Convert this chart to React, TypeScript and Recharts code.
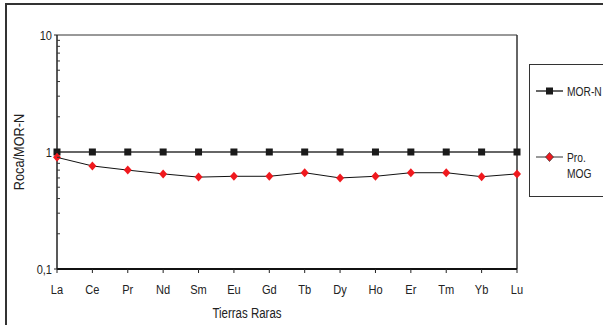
import React from 'react';
import { LineChart, Line, XAxis, YAxis, Legend, ReferenceLine } from 'recharts';

const elements = ['La', 'Ce', 'Pr', 'Nd', 'Sm', 'Eu', 'Gd', 'Tb', 'Dy', 'Ho', 'Er', 'Tm', 'Yb', 'Lu'];
const morN = [1, 1, 1, 1, 1, 1, 1, 1, 1, 1, 1, 1, 1, 1];
const proMog = [0.9, 0.76, 0.7, 0.65, 0.61, 0.62, 0.62, 0.665, 0.6, 0.62, 0.665, 0.665, 0.615, 0.65];
const yMajorTicks = [0.1, 1, 10];
const yMinorTicks = [0.2, 0.3, 0.4, 0.5, 0.6, 0.7, 0.8, 0.9, 2, 3, 4, 5, 6, 7, 8, 9];
const seriesNames = ['MOR-N', 'Pro. MOG'];
const yTitle = 'Roca/MOR-N';
const xTitle = 'Tierras Raras';

const data = elements.map((el, i) => ({ el, morN: morN[i], proMog: proMog[i] }));

const FONT = "'Liberation Sans', Arial, sans-serif";
const TEXT = '#222';

const NText = ({ x, y, anchor = 'middle', size = 13.5, rotate = 0, sx = 0.82, children }: any) => (
  <text
    transform={`translate(${x},${y}) rotate(${rotate}) scale(${sx},1)`}
    x={0}
    y={0}
    dy="0.36em"
    textAnchor={anchor}
    fontSize={size}
    fontFamily={FONT}
    fill={TEXT}
  >
    {children}
  </text>
);

const YTick = (props: any) => {
  const { x, y, payload } = props;
  const v = payload.value;
  const major = yMajorTicks.includes(v);
  if (major) {
    return (
      <g>
        <line x1={x - 3} x2={x} y1={y} y2={y} stroke="#222" strokeWidth={1} />
        <NText x={x - 5} y={y} anchor="end">
          {String(v).replace('.', ',')}
        </NText>
      </g>
    );
  }
  return <line x1={x} x2={x + 3} y1={y} y2={y} stroke="#333" strokeWidth={1} />;
};

const XTick = (props: any) => {
  const { x, y, payload } = props;
  return (
    <NText x={x} y={y + 6}>
      {payload.value}
    </NText>
  );
};

const Square = (p: any) => {
  const { cx, cy, index } = p;
  return <rect key={`s${index}`} x={cx - 3.5} y={cy - 3.5} width={7} height={7} fill="#1a1a1a" />;
};

const Diamond = (p: any) => {
  const { cx, cy, index } = p;
  return (
    <path
      key={`d${index}`}
      d={`M${cx},${cy - 4.5} L${cx + 4},${cy} L${cx},${cy + 4.5} L${cx - 4},${cy} Z`}
      fill="#f0191e"
    />
  );
};

const LegendBox = () => (
  <div
    style={{
      width: 100,
      height: 133,
      border: '1.5px solid #333',
      boxSizing: 'border-box',
      background: '#fff',
    }}
  >
    <svg width={100} height={133} style={{ position: 'absolute', left: 0, top: 0 }}>
      <line x1={7} x2={34} y1={27} y2={27} stroke="#333" strokeWidth={1.5} />
      <rect x={17} y={23.5} width={7} height={7} fill="#1a1a1a" />
      <NText x={38} y={27} anchor="start" size={12.5}>
        {seriesNames[0]}
      </NText>
      <line x1={7} x2={34} y1={93} y2={93} stroke="#333" strokeWidth={1} />
      <path d="M20.5,88.5 L24.5,93 L20.5,97.5 L16.5,93 Z" fill="#f0191e" stroke="#333" strokeWidth={0.7} />
      <NText x={38} y={93} anchor="start" size={12.5}>
        {seriesNames[1].split(' ')[0]}
      </NText>
      <NText x={38} y={109} anchor="start" size={12.5}>
        {seriesNames[1].split(' ')[1]}
      </NText>
    </svg>
  </div>
);

export default function App() {
  return (
    <div style={{ position: 'absolute', left: 0, top: 0, width: 603, height: 325, overflow: 'hidden', background: '#fff' }}>
      <div
        style={{
          position: 'absolute',
          left: 5,
          top: 3,
          width: 700,
          height: 400,
          border: '2px solid #333',
        }}
      />
      <div style={{ position: 'absolute', left: 0, top: 0 }}>
        <LineChart width={603} height={325} data={data} margin={{ top: 35, right: 86, bottom: 0, left: 0 }}>
          <XAxis
            dataKey="el"
            interval={0}
            height={56}
            axisLine={{ stroke: '#111', strokeWidth: 2 }}
            tickLine={{ stroke: '#222' }}
            tickSize={4}
            tickMargin={10}
            tick={<XTick />}
            label={{
              content: (props: any) => {
                const { viewBox } = props;
                return (
                  <NText x={viewBox.x + 190} y={viewBox.y + 44} size={14}>
                    {xTitle}
                  </NText>
                );
              },
            }}
          />
          <YAxis
            type="number"
            scale="log"
            domain={[0.1, 10]}
            allowDataOverflow
            ticks={[...yMajorTicks, ...yMinorTicks]}
            interval={0}
            width={57}
            axisLine={{ stroke: '#222', strokeWidth: 1.5 }}
            tickLine={false}
            tickSize={0}
            tickMargin={0}
            tick={<YTick />}
            label={{
              content: (props: any) => {
                const { viewBox } = props;
                const cx = viewBox.x + 19;
                const cy = viewBox.y + viewBox.height / 2;
                return (
                  <NText x={cx} y={cy} size={14} rotate={-90} sx={0.91}>
                    {yTitle}
                  </NText>
                );
              },
            }}
          />
          <ReferenceLine y={10} stroke="#333" strokeWidth={1} />
          <ReferenceLine x="Lu" stroke="#333" strokeWidth={1.5} />
          <Line
            dataKey="morN"
            name={seriesNames[0]}
            stroke="#333"
            strokeWidth={1.5}
            dot={Square}
            isAnimationActive={false}
          />
          <Line
            dataKey="proMog"
            name={seriesNames[1]}
            stroke="#111"
            strokeWidth={1}
            dot={Diamond}
            isAnimationActive={false}
          />
          <Legend
            layout="vertical"
            align="center"
            verticalAlign="middle"
            content={() => <LegendBox />}
            wrapperStyle={{ position: 'absolute', left: 529, top: 64, width: 100, height: 133 }}
          />
        </LineChart>
      </div>
    </div>
  );
}
